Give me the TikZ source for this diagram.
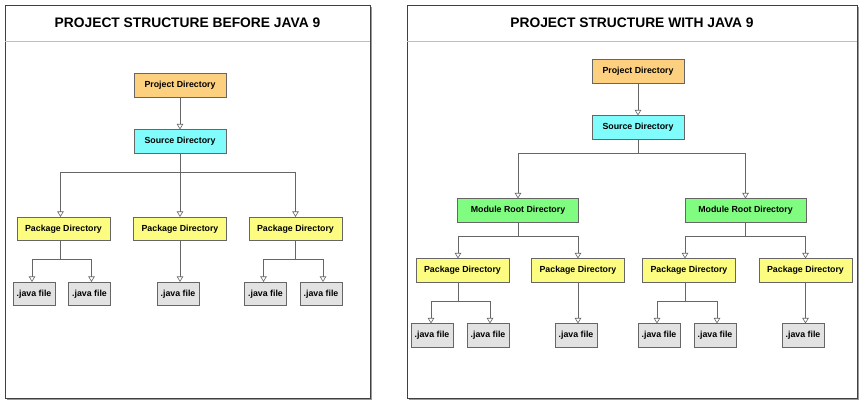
\documentclass[tikz,border=0pt]{standalone}
\usepackage{fontspec}
\setmainfont{Liberation Sans}
\usetikzlibrary{arrows.meta}
\begin{document}
\begin{tikzpicture}[x=1pt,y=-1pt,
  box/.style={draw=black!60,line width=0.6pt,font=\bfseries\fontsize{8.8}{10}\selectfont,inner sep=0pt,minimum height=23.5pt},
  projbox/.style={box,fill=projcol,minimum width=92pt},
  srcbox/.style={box,fill=srccol,minimum width=92pt},
  pkgbox/.style={box,fill=pkgcol,minimum width=93pt},
  modbox/.style={box,fill=modcol,minimum width=121pt},
  javabox/.style={box,fill=javacol,minimum width=42pt},
  conn/.style={draw=black!60,line width=0.6pt,-{Triangle[open,length=5.5pt,width=6.5pt,fill=white]}},
  frame/.style={draw=black!75,line width=0.7pt,fill=white},
  titletext/.style={font=\bfseries\fontsize{13.8}{16}\selectfont}
]
\definecolor{projcol}{HTML}{FDD080}
\definecolor{srccol}{HTML}{80FCFC}
\definecolor{pkgcol}{HTML}{FCFC80}
\definecolor{modcol}{HTML}{80FC80}
\definecolor{javacol}{HTML}{E2E2E2}
\useasboundingbox (0,0) rectangle (865,407);
\fill[white] (0,0) rectangle (865,407);

% ---------- left panel ----------
\fill[black!40] (7,7) rectangle (372,400);
\draw[frame] (5,5) rectangle (370,398);
\draw[black!25,line width=0.6pt] (5,41) -- (370,41);
\node[titletext] (t1) at (187.5,23) {PROJECT STRUCTURE BEFORE JAVA 9};

\node[projbox] (p1) at (180,85.5) {Project Directory};
\node[srcbox] (s1) at (180,141.5) {Source Directory};
\node[pkgbox] (k1) at (63.5,229) {Package Directory};
\node[pkgbox] (k2) at (180,229) {Package Directory};
\node[pkgbox] (k3) at (295.5,229) {Package Directory};
\node[javabox] (j1) at (34,294) {.java file};
\node[javabox] (j2) at (89.5,294) {.java file};
\node[javabox] (j3) at (178,294) {.java file};
\node[javabox] (j4) at (265.5,294) {.java file};
\node[javabox] (j5) at (321,294) {.java file};
\coordinate (b1) at (0,172);
\coordinate (b2) at (0,259);

\draw[conn] (p1) -- (s1);
\draw[conn] (s1.south) -- (s1.south |- b1) -| ([xshift=-3pt]k1.north);
\draw[conn] (s1) -- (k2);
\draw[conn] (s1.south) -- (s1.south |- b1) -| (k3.north);
\draw[conn] ([xshift=-3pt]k1.south) -- ([xshift=-3pt]k1.south |- b2) -| ([xshift=-2pt]j1.north);
\draw[conn] ([xshift=-3pt]k1.south) -- ([xshift=-3pt]k1.south |- b2) -| ([xshift=2pt]j2.north);
\draw[conn] (k2.south) -- (j3.north -| k2.south);
\draw[conn] (k3.south) -- (k3.south |- b2) -| ([xshift=-2pt]j4.north);
\draw[conn] (k3.south) -- (k3.south |- b2) -| ([xshift=2pt]j5.north);

% ---------- right panel ----------
\fill[black!40] (409,7) rectangle (859,400);
\draw[frame] (407,5) rectangle (857,398);
\draw[black!25,line width=0.6pt] (407,41) -- (857,41);
\node[titletext] (t2) at (632,23) {PROJECT STRUCTURE WITH JAVA 9};

\node[projbox] (p2) at (638,71.5) {Project Directory};
\node[srcbox] (s2) at (638,127.5) {Source Directory};
\node[modbox] (m1) at (518,210.5) {Module Root Directory};
\node[modbox] (m2) at (745.5,210.5) {Module Root Directory};
\node[pkgbox] (q1) at (462.5,270.5) {Package Directory};
\node[pkgbox] (q2) at (578,270.5) {Package Directory};
\node[pkgbox] (q3) at (689,270.5) {Package Directory};
\node[pkgbox] (q4) at (805.5,270.5) {Package Directory};
\node[javabox] (r1) at (432,335.5) {.java file};
\node[javabox] (r2) at (488,335.5) {.java file};
\node[javabox] (r3) at (576,335.5) {.java file};
\node[javabox] (r4) at (659,335.5) {.java file};
\node[javabox] (r5) at (715,335.5) {.java file};
\node[javabox] (r6) at (803,335.5) {.java file};
\coordinate (c1) at (0,153);
\coordinate (c2) at (0,236);
\coordinate (c3) at (0,301);

\draw[conn] (p2) -- (s2);
\draw[conn] (s2.south) -- (s2.south |- c1) -| (m1.north);
\draw[conn] (s2.south) -- (s2.south |- c1) -| (m2.north);
\draw[conn] (m1.south) -- (m1.south |- c2) -| ([xshift=-4.5pt]q1.north);
\draw[conn] (m1.south) -- (m1.south |- c2) -| (q2.north);
\draw[conn] (m2.south) -- (m2.south |- c2) -| ([xshift=-4pt]q3.north);
\draw[conn] (m2.south) -- (m2.south |- c2) -| (q4.north);
\draw[conn] ([xshift=-4.5pt]q1.south) -- ([xshift=-4.5pt]q1.south |- c3) -| ([xshift=-1pt]r1.north);
\draw[conn] ([xshift=-4.5pt]q1.south) -- ([xshift=-4.5pt]q1.south |- c3) -| ([xshift=2pt]r2.north);
\draw[conn] (q2.south) -- (r3.north -| q2.south);
\draw[conn] ([xshift=-4pt]q3.south) -- ([xshift=-4pt]q3.south |- c3) -| ([xshift=-2pt]r4.north);
\draw[conn] ([xshift=-4pt]q3.south) -- ([xshift=-4pt]q3.south |- c3) -| ([xshift=2pt]r5.north);
\draw[conn] (q4.south) -- (r6.north -| q4.south);
\end{tikzpicture}
\end{document}
